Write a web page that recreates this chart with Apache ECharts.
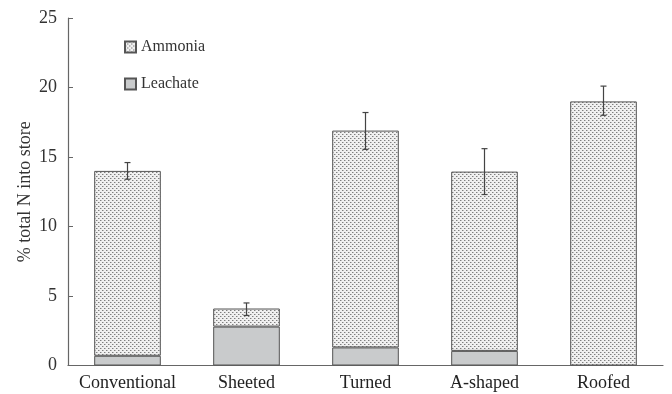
<!DOCTYPE html>
<html><head><meta charset="utf-8">
<script src="https://cdn.jsdelivr.net/npm/echarts@6/dist/echarts.min.js"></script>
<style>html,body{margin:0;padding:0;background:#fff}#c{width:672px;height:394px}</style>
</head><body><div id="c"></div>
<script>
var categories = ['Conventional', 'Sheeted', 'Turned', 'A-shaped', 'Roofed'];
var leachate = [0.7, 2.8, 1.3, 1.05, 0];
var ammonia = [13.3, 1.3, 15.6, 12.9, 19.0];
var errLow = [13.4, 3.6, 15.55, 12.3, 18.0];
var errHigh = [14.6, 4.5, 18.2, 15.6, 20.1];
var yTicks = [0, 5, 10, 15, 20, 25];

var pc = document.createElement('canvas');
pc.width = 4; pc.height = 4;
var g = pc.getContext('2d');
g.fillStyle = '#f0f0f0'; g.fillRect(0, 0, 4, 4);
g.fillStyle = '#7e7e7e';
g.fillRect(0, 0, 1, 1); g.fillRect(2, 2, 1, 1);
g.fillStyle = '#bdbdbd';
g.fillRect(1, 0, 1, 1); g.fillRect(3, 2, 1, 1);

var font = '"Liberation Serif", "Times New Roman", serif';
var errData = categories.map(function (c, i) { return [i, errLow[i], errHigh[i]]; });
var leachData = leachate.map(function (v) { return v > 0 ? v : '-'; });

var chart = echarts.init(document.getElementById('c'));
chart.setOption({
  animation: false,
  textStyle: { fontFamily: font },
  grid: { left: 68, right: 9, top: 18, bottom: 28.5 },
  legend: {
    orient: 'vertical', left: 119, top: 34, itemWidth: 11, itemHeight: 11, itemGap: 21,
    icon: 'rect',
    textStyle: { fontFamily: font, fontSize: 16, color: '#333' },
    data: ['Ammonia', 'Leachate']
  },
  xAxis: {
    type: 'category', data: categories,
    axisLine: { lineStyle: { color: '#666', width: 1.2 } },
    axisTick: { inside: true, length: 5, lineStyle: { color: '#666' } },
    axisLabel: { fontFamily: font, fontSize: 18, color: '#222', margin: 9, interval: 0 }
  },
  yAxis: {
    type: 'value', min: 0, max: 25, interval: 5,
    name: '% total N into store', nameLocation: 'middle', nameGap: 34,
    nameMoveOverlap: false,
    nameTextStyle: { fontFamily: font, fontSize: 18, color: '#333' },
    axisLine: { show: true, lineStyle: { color: '#666', width: 1.2 } },
    axisTick: { show: true, inside: true, length: 5, lineStyle: { color: '#666' } },
    axisLabel: { fontFamily: font, fontSize: 18, color: '#333', margin: 11,
      formatter: function (v) { return yTicks.indexOf(v) >= 0 ? String(v) : ''; } },
    splitLine: { show: false }
  },
  series: [
    { name: 'Leachate', type: 'bar', stack: 'n', data: leachData, barWidth: '56%',
      itemStyle: { color: '#c9cbcc', borderColor: '#555', borderWidth: 1 } },
    { name: 'Ammonia', type: 'bar', stack: 'n', data: ammonia, barWidth: '56%',
      itemStyle: { color: { image: pc, repeat: 'repeat' }, borderColor: '#555', borderWidth: 1 } },
    { name: 'err', type: 'custom', data: errData, z: 10,
      renderItem: function (params, api) {
        var x = api.value(0);
        var lo = api.coord([x, api.value(1)]);
        var hi = api.coord([x, api.value(2)]);
        var w = 3;
        var st = { stroke: '#444', lineWidth: 1.2 };
        return { type: 'group', children: [
          { type: 'line', shape: { x1: hi[0], y1: hi[1], x2: lo[0], y2: lo[1] }, style: st },
          { type: 'line', shape: { x1: hi[0] - w, y1: hi[1], x2: hi[0] + w, y2: hi[1] }, style: st },
          { type: 'line', shape: { x1: lo[0] - w, y1: lo[1], x2: lo[0] + w, y2: lo[1] }, style: st }
        ] };
      }
    }
  ]
});
</script></body></html>
